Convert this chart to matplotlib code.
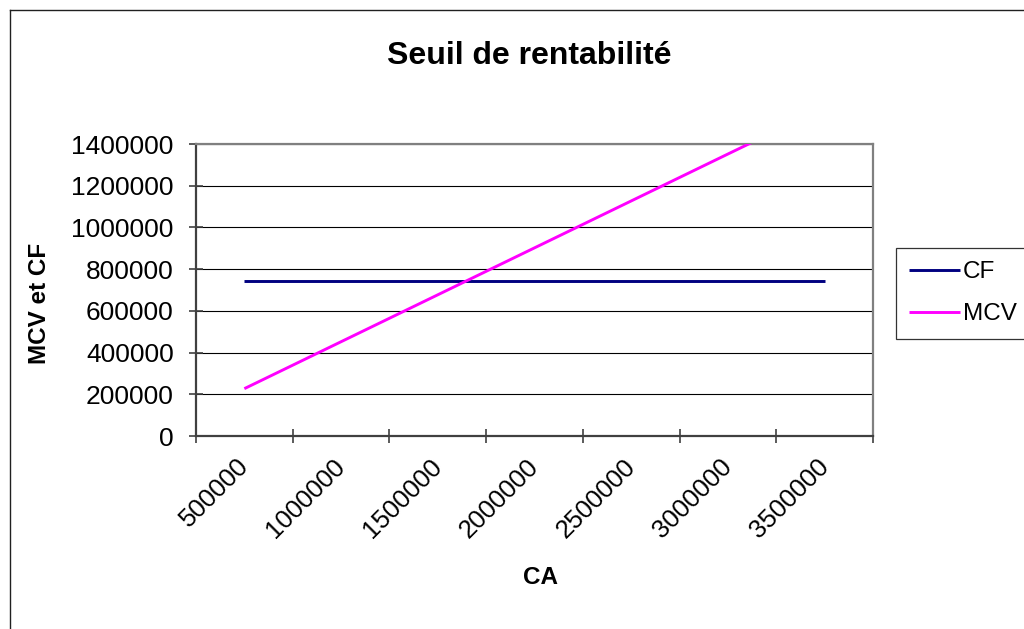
import matplotlib
matplotlib.use("Agg")
import matplotlib.pyplot as plt
from matplotlib.lines import Line2D
from matplotlib.transforms import ScaledTranslation

plt.rcParams['font.family'] = ['Liberation Sans', 'DejaVu Sans']

categories = ["500000", "1000000", "1500000", "2000000", "2500000", "3000000", "3500000"]
cf_values = [742000, 742000, 742000, 742000, 742000, 742000, 742000]
mcv_values = [227000, 452000, 677000, 902000, 1127000, 1352000, 1576000]
y_ticks = [0, 200000, 400000, 600000, 800000, 1000000, 1200000, 1400000]

W, H = 1024, 629
fig = plt.figure(figsize=(W / 100, H / 100), dpi=100)

L, R, T, B = 196, 873, 144, 436
ax = fig.add_axes([L / W, 1 - B / H, (R - L) / W, (B - T) / H])

x = list(range(len(categories)))
ax.plot(x, cf_values, color='#000080', lw=2.1, label='CF', solid_capstyle='butt', zorder=3)
ax.plot(x, mcv_values, color='#FF00FF', lw=2.1, label='MCV', solid_capstyle='butt', zorder=3)

ax.set_xlim(-0.5, len(categories) - 0.5)
ax.set_ylim(0, 1400000)

# y axis
ax.set_yticks(y_ticks)
ax.set_yticklabels([str(v) for v in y_ticks], fontsize=19)
ax.grid(axis='y', color='#000000', lw=0.8, zorder=1)
ax.tick_params(axis='y', direction='inout', length=10, width=1.2, color='#404040', pad=11)

# x axis: ticks at category boundaries, labels at centers
ax.set_xticks([i - 0.5 for i in range(len(categories) + 1)])
ax.set_xticklabels([''] * (len(categories) + 1))
ax.set_xticks(x, minor=True)
ax.set_xticklabels(categories, minor=True, fontsize=18.5, rotation=45,
                   ha='right', va='top', rotation_mode='anchor')
ax.tick_params(axis='x', which='major', direction='inout', length=10, width=1.2, color='#404040')
ax.tick_params(axis='x', which='minor', length=0, pad=13)
for lab in ax.get_xticklabels(minor=True):
    lab.set_transform(lab.get_transform() + ScaledTranslation(-8 / 100, 0, fig.dpi_scale_trans))

for side in ['left', 'bottom']:
    ax.spines[side].set_color('#404040')
    ax.spines[side].set_linewidth(1.6)
for side in ['top', 'right']:
    ax.spines[side].set_color('#808080')
    ax.spines[side].set_linewidth(1.6)

# titles
fig.text(529 / W, 1 - 56 / H, 'Seuil de rentabilité', fontsize=23, fontweight='bold',
         ha='center', va='center')
fig.text(40 / W, 1 - 303 / H, 'MCV et CF', fontsize=17.5, fontweight='bold',
         ha='center', va='center', rotation=90)
fig.text(540 / W, 1 - 578 / H, 'CA', fontsize=17.5, fontweight='bold',
         ha='center', va='center')

# legend
leg = fig.legend(loc='upper left', bbox_to_anchor=(896 / W, 1 - 248 / H),
                 fontsize=17.5, frameon=True, fancybox=False, handlelength=2.1,
                 handletextpad=0.1, borderpad=0.55, labelspacing=0.82,
                 borderaxespad=0)
leg.get_frame().set_edgecolor('#000000')
leg.get_frame().set_linewidth(0.9)

# chart area border (left and top visible)
fig.add_artist(Line2D([9.5 / W, 9.5 / W], [0, 1 - 10 / H], color='#202020', lw=1.0))
fig.add_artist(Line2D([9.5 / W, 1], [1 - 10 / H, 1 - 10 / H], color='#202020', lw=1.0))

fig.savefig('out.png', dpi=100)
